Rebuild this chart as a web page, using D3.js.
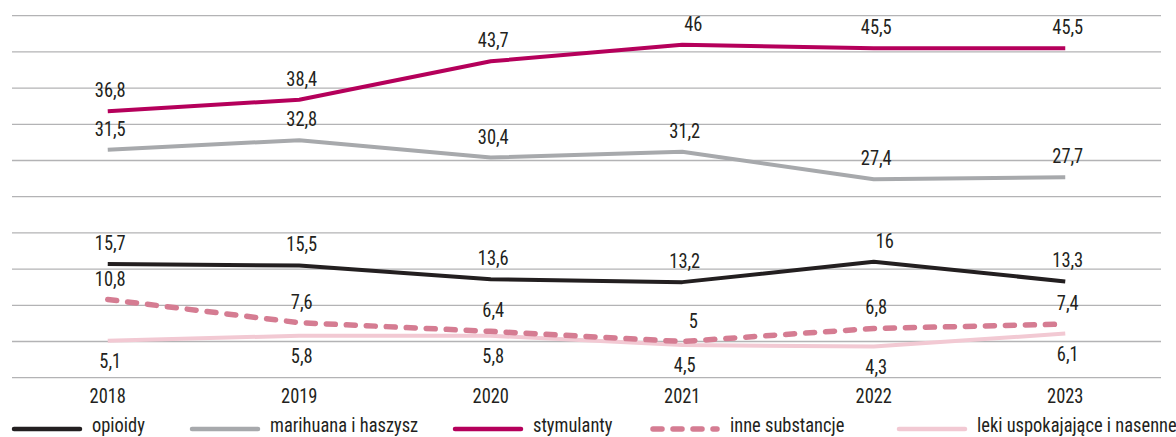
<!DOCTYPE html>
<html lang="pl">
<head>
<meta charset="UTF-8" />
<title>Wykres</title>
<script src="https://d3js.org/d3.v7.min.js"></script>
<style>
  body { margin: 0; background: #fff; }
  text { font-family: "Roboto Condensed", "Liberation Sans Narrow", "DejaVu Sans Condensed", sans-serif; font-size: 20.5px; fill: #231f20; }
  .grid line { stroke: #b3b3b5; stroke-width: 1.3; }
  .serie { fill: none; stroke-linejoin: round; }
</style>
</head>
<body>
<script>
var width = 1176, height = 437;

var years = ["2018", "2019", "2020", "2021", "2022", "2023"];
var opioidy = [15.7, 15.5, 13.6, 13.2, 16, 13.3];
var marihuana = [31.5, 32.8, 30.4, 31.2, 27.4, 27.7];
var stymulanty = [36.8, 38.4, 43.7, 46, 45.5, 45.5];
var inne = [10.8, 7.6, 6.4, 5, 6.8, 7.4];
var leki = [5.1, 5.8, 5.8, 4.5, 4.3, 6.1];
var gridTicks = d3.range(0, 51, 5);

// legend order
var series = [
  {name: "opioidy", values: opioidy, color: "#231f20", w: 4, dash: null, below: false},
  {name: "marihuana i haszysz", values: marihuana, color: "#a7a9ac", w: 4, dash: null, below: false},
  {name: "stymulanty", values: stymulanty, color: "#b5005b", w: 4, dash: null, below: false},
  {name: "inne substancje", values: inne, color: "#d57c92", w: 5.5, dash: "9 11", below: false},
  {name: "leki uspokajające i nasenne", values: leki, color: "#f2c9d3", w: 4, dash: null, below: true}
];
var legendX = [12, 190, 453, 650, 897];
// drawing order: later ones on top
var drawOrder = [4, 3, 1, 0, 2];

var svg = d3.select("body").append("svg").attr("width", width).attr("height", height);

var x = d3.scaleBand().domain(years).range([12, 1161]);
var y = d3.scaleLinear().domain([0, 50]).range([377.7, 15.7]);
function cx(i) { return x(years[i]) + x.bandwidth() / 2; }

// narrow text helper (the original font is a condensed face)
function label(parent, tx, ty, str, anchor) {
  return parent.append("text")
    .attr("transform", "translate(" + tx + "," + ty + ") scale(0.9,1)")
    .attr("text-anchor", anchor || "middle")
    .text(str);
}

svg.append("g").attr("class", "grid")
  .selectAll("line").data(gridTicks).enter().append("line")
  .attr("x1", 12).attr("x2", 1161)
  .attr("y1", function(d) { return y(d); })
  .attr("y2", function(d) { return y(d); });

var line = d3.line()
  .x(function(d, i) { return cx(i); })
  .y(function(d) { return y(d); });

drawOrder.forEach(function(k) {
  var s = series[k];
  svg.append("path")
    .attr("class", "serie")
    .attr("d", line(s.values))
    .attr("stroke", s.color)
    .attr("stroke-width", s.w)
    .attr("stroke-linecap", s.dash ? "round" : "butt")
    .attr("stroke-dasharray", s.dash);
});

// data labels
series.forEach(function(s) {
  var g = svg.append("g");
  s.values.forEach(function(d, i) {
    var lx = cx(i) + (d % 1 === 0 ? 11 : 2.5);
    var ly = s.below ? y(d) + 27 : y(d) - 14;
    label(g, lx, ly, String(d).replace(".", ","));
  });
});

// x axis labels
var ax = svg.append("g");
years.forEach(function(d, i) { label(ax, cx(i), 403, d); });

// legend
series.forEach(function(s, k) {
  var g = svg.append("g");
  var lx = legendX[k];
  g.append("line")
    .attr("x1", lx + (s.dash ? 3 : 2)).attr("x2", lx + 70 - (s.dash ? 3 : 2))
    .attr("y1", 429).attr("y2", 429)
    .attr("stroke", s.color)
    .attr("stroke-width", s.dash ? 5.5 : 4.5)
    .attr("stroke-linecap", "round")
    .attr("stroke-dasharray", s.dash ? "9 11" : null);
  label(g, lx + 80, 432, s.name, "start");
});
</script>
</body>
</html>
